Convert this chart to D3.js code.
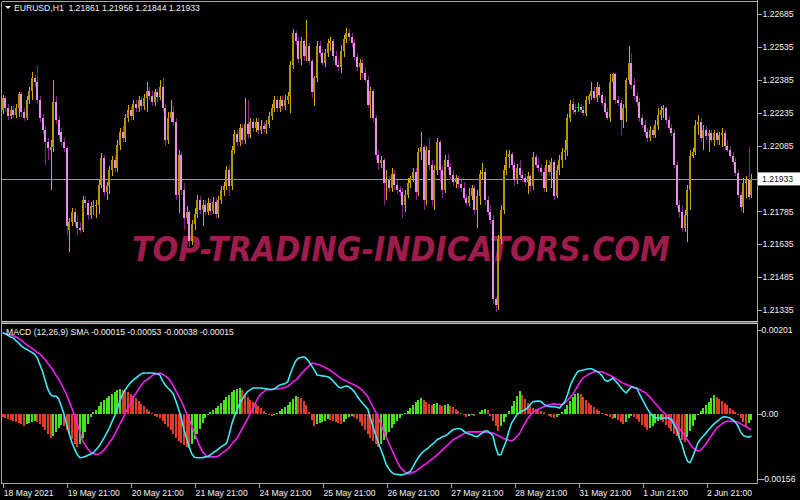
<!DOCTYPE html>
<html><head><meta charset="utf-8">
<script src="https://cdn.jsdelivr.net/npm/d3@7"></script>
<style>html,body{margin:0;padding:0;background:#000;} svg{display:block;}</style>
</head><body>
<svg id="c" width="800" height="500"></svg>
<script>
// ---------------- DATA ----------------
const chartTitle = "EURUSD,H1";
const lastOHLC = [1.21861, 1.21956, 1.21844, 1.21933];
const currentPrice = 1.21933;
const watermark = "TOP-TRADING-INDICATORS.COM";
const macdLegend = "MACD (12,26,9) SMA -0.00015 -0.00053 -0.00038 -0.00015";

const open = [1.22246,1.22300,1.22255,1.22219,1.22246,1.22223,1.22255,1.22318,1.22237,1.22210,
1.22291,1.22336,1.22391,1.22373,1.22291,1.22210,1.22155,1.22101,1.22064,1.22078,
1.22282,1.22200,1.22146,1.22101,1.22074,1.21702,1.21738,1.21784,1.21738,1.21711,
1.21702,1.21838,1.21824,1.21766,1.21811,1.21811,1.21815,1.21906,1.22028,1.21874,
1.21901,1.21974,1.22019,1.21983,1.22087,1.22146,1.22119,1.22210,1.22246,1.22219,
1.22273,1.22255,1.22291,1.22264,1.22300,1.22336,1.22309,1.22282,1.22327,1.22305,
1.22354,1.22255,1.22110,1.22210,1.22237,1.22191,1.21861,1.22042,1.21883,1.21756,
1.21784,1.21648,1.21725,1.21775,1.21838,1.21793,1.21815,1.21784,1.21824,1.21788,
1.21829,1.21775,1.21838,1.21883,1.21901,1.21974,1.21901,1.22064,1.22137,1.22101,
1.22164,1.22110,1.22182,1.22137,1.22191,1.22164,1.22191,1.22155,1.22173,1.22160,
1.22182,1.22219,1.22255,1.22291,1.22255,1.22291,1.22264,1.22291,1.22309,1.22454,
1.22599,1.22563,1.22481,1.22563,1.22495,1.22540,1.22472,1.22327,1.22391,1.22540,
1.22508,1.22463,1.22508,1.22554,1.22563,1.22495,1.22454,1.22445,1.22518,1.22572,
1.22599,1.22581,1.22554,1.22490,1.22445,1.22463,1.22418,1.22382,1.22268,1.22336,
1.22210,1.22042,1.22006,1.22019,1.21915,1.21929,1.21892,1.21956,1.21906,1.21883,
1.21874,1.21815,1.21861,1.21915,1.21938,1.21965,1.21874,1.22055,1.22078,1.21838,
1.22064,1.21997,1.21838,1.21974,1.22101,1.21974,1.21883,1.22019,1.21987,1.21951,
1.21920,1.21938,1.21910,1.21892,1.21847,1.21824,1.21856,1.21892,1.21793,1.21856,
1.21956,1.21965,1.21838,1.21784,1.21747,1.21385,1.21358,1.21657,1.21793,1.21974,
1.22033,1.22046,1.21997,1.21929,1.21983,1.21951,1.21938,1.21920,1.21947,1.21901,
1.22033,1.21997,1.21983,1.21965,1.21892,1.21997,1.21965,1.22010,1.21856,1.21974,
1.22019,1.22055,1.22064,1.22210,1.22273,1.22246,1.22259,1.22259,1.22246,1.22232,
1.22291,1.22309,1.22336,1.22300,1.22354,1.22314,1.22277,1.22237,1.22210,1.22373,
1.22413,1.22291,1.22277,1.22200,1.22255,1.22382,1.22463,1.22359,1.22309,1.22282,
1.22210,1.22178,1.22146,1.22119,1.22155,1.22133,1.22178,1.22223,1.22246,1.22255,
1.22200,1.22164,1.22142,1.21997,1.21815,1.21784,1.21711,1.21770,1.21883,1.22037,
1.22055,1.22178,1.22191,1.22119,1.22155,1.22128,1.22142,1.22110,1.22142,1.22110,
1.22133,1.22142,1.22083,1.22064,1.22037,1.22010,1.21960,1.21861,1.21806,1.21915,
1.21929,1.21861];

const high = [1.22314,1.22309,1.22273,1.22264,1.22264,1.22273,1.22327,1.22327,1.22255,1.22309,
1.22354,1.22422,1.22409,1.22450,1.22309,1.22228,1.22173,1.22119,1.22110,1.22382,
1.22309,1.22219,1.22164,1.22119,1.22083,1.21756,1.21802,1.21802,1.21766,1.21738,
1.21856,1.21856,1.21838,1.21829,1.21838,1.21838,1.21929,1.22051,1.22042,1.21920,
1.21992,1.22037,1.22042,1.22110,1.22164,1.22173,1.22228,1.22268,1.22264,1.22291,
1.22291,1.22309,1.22305,1.22318,1.22377,1.22354,1.22336,1.22345,1.22345,1.22382,
1.22395,1.22273,1.22237,1.22291,1.22264,1.22210,1.22064,1.22055,1.21915,1.21811,
1.21793,1.21747,1.21802,1.21861,1.21856,1.21838,1.21838,1.21847,1.21843,1.21852,
1.21847,1.21856,1.21901,1.21920,1.21992,1.21997,1.22083,1.22155,1.22155,1.22182,
1.22182,1.22300,1.22291,1.22210,1.22210,1.22210,1.22210,1.22200,1.22191,1.22200,
1.22237,1.22273,1.22309,1.22309,1.22309,1.22309,1.22314,1.22327,1.22472,1.22617,
1.22608,1.22581,1.22581,1.22572,1.22658,1.22554,1.22481,1.22404,1.22563,1.22563,
1.22527,1.22527,1.22572,1.22581,1.22572,1.22518,1.22481,1.22545,1.22590,1.22622,
1.22617,1.22599,1.22572,1.22508,1.22481,1.22481,1.22445,1.22400,1.22354,1.22345,
1.22223,1.22064,1.22037,1.22028,1.21974,1.21947,1.21983,1.21974,1.21929,1.21901,
1.21892,1.21883,1.21938,1.21947,1.21983,1.21983,1.22074,1.22146,1.22087,1.22083,
1.22119,1.22019,1.21997,1.22119,1.22110,1.21997,1.22042,1.22046,1.22006,1.21974,
1.21951,1.21947,1.21929,1.21920,1.21865,1.21892,1.21906,1.21906,1.21883,1.21974,
1.22006,1.21983,1.21856,1.21815,1.21770,1.21394,1.21675,1.21815,1.21997,1.22064,
1.22064,1.22055,1.22010,1.22001,1.22019,1.21974,1.21956,1.21965,1.21956,1.22055,
1.22046,1.22028,1.22001,1.21983,1.22019,1.22019,1.22028,1.22019,1.21997,1.22042,
1.22074,1.22110,1.22228,1.22291,1.22300,1.22273,1.22277,1.22273,1.22264,1.22309,
1.22318,1.22373,1.22354,1.22373,1.22364,1.22327,1.22309,1.22255,1.22413,1.22418,
1.22418,1.22309,1.22291,1.22273,1.22391,1.22540,1.22508,1.22391,1.22327,1.22300,
1.22223,1.22200,1.22164,1.22173,1.22173,1.22200,1.22255,1.22264,1.22268,1.22264,
1.22219,1.22182,1.22155,1.22010,1.21838,1.21815,1.21793,1.21906,1.22064,1.22074,
1.22200,1.22223,1.22210,1.22178,1.22173,1.22155,1.22155,1.22155,1.22155,1.22146,
1.22164,1.22155,1.22110,1.22083,1.22055,1.22028,1.21974,1.21874,1.21938,1.21947,
1.22078,1.21956];

const low = [1.22228,1.22237,1.22200,1.22205,1.22210,1.22210,1.22214,1.22214,1.22196,1.22200,
1.22273,1.22291,1.22354,1.22273,1.22191,1.22137,1.21997,1.22019,1.21883,1.22055,
1.22182,1.22110,1.22083,1.22055,1.21679,1.21598,1.21720,1.21720,1.21675,1.21684,
1.21689,1.21802,1.21747,1.21752,1.21770,1.21756,1.21775,1.21892,1.21856,1.21838,
1.21865,1.21947,1.21965,1.21965,1.22064,1.22101,1.22101,1.22191,1.22200,1.22200,
1.22237,1.22237,1.22246,1.22246,1.22237,1.22291,1.22264,1.22264,1.22282,1.22291,
1.22237,1.22083,1.22092,1.22191,1.22173,1.21838,1.21779,1.21861,1.21702,1.21729,
1.21621,1.21630,1.21702,1.21756,1.21775,1.21716,1.21766,1.21766,1.21770,1.21775,
1.21756,1.21756,1.21820,1.21856,1.21883,1.21856,1.21883,1.22046,1.22083,1.22083,
1.22092,1.22092,1.22119,1.22119,1.22146,1.22146,1.22137,1.22137,1.22142,1.22137,
1.22164,1.22200,1.22237,1.22237,1.22237,1.22246,1.22246,1.22273,1.22232,1.22436,
1.22545,1.22463,1.22454,1.22472,1.22472,1.22454,1.22300,1.22264,1.22373,1.22490,
1.22454,1.22445,1.22490,1.22518,1.22472,1.22441,1.22427,1.22418,1.22490,1.22554,
1.22563,1.22536,1.22472,1.22427,1.22382,1.22391,1.22373,1.22255,1.22210,1.22191,
1.22019,1.21974,1.21983,1.21815,1.21838,1.21874,1.21874,1.21883,1.21865,1.21856,
1.21756,1.21784,1.21847,1.21892,1.21920,1.21838,1.21856,1.22019,1.21793,1.21815,
1.21974,1.21811,1.21793,1.21951,1.21920,1.21847,1.21870,1.21974,1.21929,1.21901,
1.21892,1.21892,1.21874,1.21838,1.21811,1.21811,1.21838,1.21775,1.21711,1.21815,
1.21929,1.21815,1.21766,1.21729,1.21362,1.21326,1.21335,1.21634,1.21775,1.21951,
1.21983,1.21974,1.21901,1.21910,1.21938,1.21920,1.21901,1.21865,1.21874,1.21883,
1.21983,1.21965,1.21947,1.21874,1.21874,1.21947,1.21892,1.21838,1.21847,1.21951,
1.21983,1.22019,1.22037,1.22191,1.22228,1.22223,1.22237,1.22232,1.22219,1.22219,
1.22273,1.22291,1.22291,1.22282,1.22300,1.22264,1.22223,1.22200,1.22191,1.22291,
1.22273,1.22264,1.22133,1.22164,1.22191,1.22364,1.22345,1.22291,1.22264,1.22191,
1.22164,1.22128,1.22101,1.22105,1.22119,1.22119,1.22155,1.22200,1.22210,1.22182,
1.22155,1.22128,1.21983,1.21802,1.21756,1.21693,1.21693,1.21643,1.21793,1.22028,
1.22042,1.22133,1.22101,1.22064,1.22110,1.22055,1.22101,1.22083,1.22087,1.22087,
1.22078,1.22064,1.22055,1.22028,1.21997,1.21947,1.21847,1.21784,1.21779,1.21847,
1.21838,1.21844];

const close = [1.22300,1.22255,1.22219,1.22246,1.22223,1.22255,1.22318,1.22237,1.22210,1.22291,
1.22336,1.22391,1.22373,1.22291,1.22210,1.22155,1.22101,1.22074,1.22078,1.22282,
1.22200,1.22133,1.22101,1.22074,1.21720,1.21738,1.21784,1.21738,1.21711,1.21702,
1.21838,1.21824,1.21766,1.21811,1.21811,1.21815,1.21906,1.22028,1.21874,1.21901,
1.21974,1.22019,1.21983,1.22087,1.22146,1.22119,1.22210,1.22246,1.22219,1.22273,
1.22255,1.22291,1.22264,1.22300,1.22336,1.22309,1.22282,1.22327,1.22305,1.22354,
1.22255,1.22110,1.22210,1.22237,1.22191,1.21861,1.22042,1.21883,1.21756,1.21784,
1.21648,1.21725,1.21775,1.21838,1.21793,1.21815,1.21784,1.21824,1.21788,1.21829,
1.21775,1.21838,1.21883,1.21901,1.21974,1.21901,1.22064,1.22137,1.22101,1.22164,
1.22110,1.22182,1.22137,1.22191,1.22164,1.22191,1.22155,1.22173,1.22160,1.22182,
1.22219,1.22255,1.22291,1.22255,1.22291,1.22264,1.22291,1.22309,1.22454,1.22599,
1.22563,1.22481,1.22563,1.22495,1.22540,1.22472,1.22327,1.22391,1.22540,1.22508,
1.22463,1.22508,1.22554,1.22563,1.22495,1.22454,1.22445,1.22518,1.22572,1.22599,
1.22581,1.22554,1.22490,1.22445,1.22463,1.22418,1.22382,1.22268,1.22336,1.22210,
1.22042,1.22006,1.22019,1.21915,1.21929,1.21892,1.21956,1.21906,1.21883,1.21874,
1.21815,1.21861,1.21915,1.21938,1.21965,1.21874,1.22055,1.22078,1.21838,1.22064,
1.21997,1.21838,1.21974,1.22101,1.21974,1.21883,1.22019,1.21987,1.21951,1.21920,
1.21938,1.21910,1.21892,1.21847,1.21824,1.21856,1.21892,1.21793,1.21856,1.21956,
1.21965,1.21838,1.21784,1.21747,1.21385,1.21358,1.21657,1.21793,1.21974,1.22033,
1.22046,1.21997,1.21929,1.21983,1.21951,1.21938,1.21920,1.21947,1.21901,1.22033,
1.21997,1.21983,1.21965,1.21892,1.21997,1.21965,1.22010,1.21856,1.21974,1.22019,
1.22055,1.22064,1.22210,1.22273,1.22246,1.22237,1.22259,1.22246,1.22232,1.22291,
1.22309,1.22336,1.22300,1.22354,1.22314,1.22277,1.22237,1.22210,1.22373,1.22413,
1.22291,1.22277,1.22200,1.22255,1.22382,1.22463,1.22359,1.22309,1.22282,1.22210,
1.22178,1.22146,1.22119,1.22155,1.22133,1.22178,1.22223,1.22246,1.22255,1.22200,
1.22164,1.22142,1.21997,1.21815,1.21784,1.21711,1.21770,1.21883,1.22037,1.22055,
1.22178,1.22191,1.22119,1.22155,1.22128,1.22142,1.22110,1.22142,1.22110,1.22133,
1.22142,1.22083,1.22064,1.22037,1.22010,1.21960,1.21861,1.21806,1.21915,1.21929,
1.21852,1.21933];

const macdLine = [0.00194,0.00192,0.00188,0.00184,0.00182,0.00175,0.00170,0.00163,0.00158,0.00155,
0.00151,0.00147,0.00143,0.00134,0.00117,0.00101,0.00079,0.00058,0.00046,0.00042,
0.00043,0.00036,0.00019,0.00000,-0.00026,-0.00048,-0.00069,-0.00084,-0.00098,-0.00105,
-0.00104,-0.00102,-0.00099,-0.00096,-0.00093,-0.00086,-0.00079,-0.00069,-0.00058,-0.00046,
-0.00034,-0.00019,-0.00005,0.00012,0.00031,0.00048,0.00058,0.00067,0.00075,0.00081,
0.00086,0.00091,0.00096,0.00098,0.00098,0.00098,0.00098,0.00097,0.00096,0.00093,
0.00079,0.00069,0.00062,0.00056,0.00048,0.00031,0.00012,-0.00010,-0.00036,-0.00058,
-0.00079,-0.00096,-0.00104,-0.00105,-0.00105,-0.00105,-0.00103,-0.00102,-0.00098,-0.00093,
-0.00089,-0.00084,-0.00079,-0.00075,-0.00071,-0.00050,-0.00024,-0.00005,0.00010,0.00026,
0.00036,0.00046,0.00054,0.00058,0.00062,0.00062,0.00062,0.00062,0.00061,0.00060,
0.00059,0.00058,0.00060,0.00065,0.00069,0.00071,0.00073,0.00077,0.00096,0.00113,
0.00127,0.00134,0.00135,0.00137,0.00133,0.00125,0.00115,0.00105,0.00093,0.00092,
0.00091,0.00090,0.00089,0.00085,0.00079,0.00072,0.00065,0.00062,0.00065,0.00067,
0.00065,0.00060,0.00053,0.00043,0.00034,0.00026,0.00019,0.00012,-0.00010,-0.00031,
-0.00050,-0.00069,-0.00086,-0.00103,-0.00122,-0.00132,-0.00140,-0.00144,-0.00145,-0.00146,
-0.00146,-0.00144,-0.00141,-0.00138,-0.00127,-0.00115,-0.00105,-0.00096,-0.00090,-0.00085,
-0.00080,-0.00074,-0.00069,-0.00062,-0.00059,-0.00055,-0.00053,-0.00049,-0.00043,-0.00038,
-0.00036,-0.00035,-0.00036,-0.00041,-0.00046,-0.00048,-0.00050,-0.00053,-0.00055,-0.00050,
-0.00046,-0.00041,-0.00041,-0.00046,-0.00052,-0.00079,-0.00098,-0.00098,-0.00081,-0.00065,
-0.00041,-0.00022,-0.00012,-0.00002,0.00004,0.00007,0.00010,0.00014,0.00022,0.00029,
0.00030,0.00031,0.00030,0.00024,0.00020,0.00018,0.00017,0.00017,0.00016,0.00014,
0.00022,0.00029,0.00046,0.00067,0.00081,0.00093,0.00102,0.00104,0.00105,0.00107,
0.00108,0.00108,0.00105,0.00102,0.00098,0.00091,0.00081,0.00078,0.00081,0.00086,
0.00079,0.00072,0.00063,0.00056,0.00050,0.00058,0.00065,0.00063,0.00062,0.00048,
0.00036,0.00024,0.00012,0.00002,-0.00005,-0.00010,-0.00010,-0.00010,-0.00010,-0.00010,
-0.00010,-0.00014,-0.00026,-0.00038,-0.00058,-0.00074,-0.00096,-0.00113,-0.00117,-0.00103,
-0.00086,-0.00069,-0.00060,-0.00053,-0.00046,-0.00038,-0.00031,-0.00024,-0.00019,-0.00014,
-0.00008,-0.00007,-0.00008,-0.00010,-0.00014,-0.00019,-0.00029,-0.00043,-0.00052,-0.00054,
-0.00056,-0.00053];

const signalLine = [0.00194,0.00192,0.00190,0.00189,0.00187,0.00184,0.00181,0.00176,0.00171,0.00165,
0.00162,0.00157,0.00152,0.00147,0.00143,0.00137,0.00129,0.00121,0.00113,0.00104,
0.00093,0.00083,0.00072,0.00059,0.00046,0.00030,0.00013,-0.00005,-0.00024,-0.00044,
-0.00065,-0.00075,-0.00084,-0.00091,-0.00095,-0.00097,-0.00096,-0.00093,-0.00087,-0.00079,
-0.00069,-0.00061,-0.00050,-0.00037,-0.00024,-0.00012,0.00001,0.00014,0.00026,0.00040,
0.00049,0.00059,0.00068,0.00077,0.00081,0.00086,0.00091,0.00095,0.00096,0.00098,
0.00095,0.00091,0.00086,0.00078,0.00068,0.00055,0.00043,0.00032,0.00017,0.00001,
-0.00014,-0.00030,-0.00046,-0.00063,-0.00078,-0.00091,-0.00098,-0.00103,-0.00103,-0.00103,
-0.00103,-0.00101,-0.00096,-0.00091,-0.00087,-0.00080,-0.00072,-0.00065,-0.00058,-0.00046,
-0.00034,-0.00023,-0.00011,0.00002,0.00014,0.00028,0.00040,0.00048,0.00053,0.00058,
0.00058,0.00059,0.00060,0.00060,0.00061,0.00062,0.00063,0.00066,0.00071,0.00077,
0.00081,0.00087,0.00096,0.00102,0.00109,0.00115,0.00121,0.00121,0.00119,0.00117,
0.00115,0.00111,0.00108,0.00104,0.00099,0.00095,0.00090,0.00085,0.00081,0.00079,
0.00075,0.00072,0.00069,0.00066,0.00062,0.00056,0.00049,0.00042,0.00029,0.00016,
0.00005,-0.00011,-0.00026,-0.00042,-0.00056,-0.00071,-0.00085,-0.00099,-0.00113,-0.00126,
-0.00133,-0.00139,-0.00144,-0.00143,-0.00140,-0.00138,-0.00133,-0.00128,-0.00123,-0.00119,
-0.00114,-0.00109,-0.00104,-0.00099,-0.00093,-0.00087,-0.00081,-0.00075,-0.00068,-0.00062,
-0.00059,-0.00055,-0.00052,-0.00048,-0.00044,-0.00043,-0.00043,-0.00043,-0.00043,-0.00043,
-0.00043,-0.00044,-0.00044,-0.00046,-0.00046,-0.00049,-0.00052,-0.00055,-0.00059,-0.00061,
-0.00063,-0.00065,-0.00061,-0.00054,-0.00047,-0.00035,-0.00023,-0.00012,-0.00004,0.00005,
0.00008,0.00011,0.00014,0.00017,0.00019,0.00022,0.00023,0.00024,0.00023,0.00023,
0.00022,0.00026,0.00032,0.00040,0.00046,0.00058,0.00068,0.00079,0.00087,0.00091,
0.00095,0.00098,0.00101,0.00101,0.00101,0.00101,0.00098,0.00095,0.00092,0.00089,
0.00085,0.00081,0.00077,0.00073,0.00071,0.00068,0.00066,0.00063,0.00061,0.00059,
0.00055,0.00052,0.00046,0.00040,0.00032,0.00025,0.00018,0.00010,0.00004,-0.00001,
-0.00007,-0.00012,-0.00019,-0.00028,-0.00035,-0.00043,-0.00053,-0.00062,-0.00072,-0.00081,
-0.00085,-0.00089,-0.00087,-0.00080,-0.00072,-0.00062,-0.00053,-0.00043,-0.00034,-0.00029,
-0.00024,-0.00020,-0.00017,-0.00018,-0.00018,-0.00019,-0.00020,-0.00024,-0.00028,-0.00030,
-0.00035,-0.00038];

const histogram = [-0.00007,-0.00010,-0.00012,-0.00014,-0.00017,-0.00019,-0.00022,-0.00024,-0.00029,-0.00024,
-0.00022,-0.00019,-0.00017,-0.00019,-0.00024,-0.00031,-0.00038,-0.00048,-0.00058,-0.00053,
-0.00043,-0.00034,-0.00026,-0.00029,-0.00038,-0.00048,-0.00060,-0.00072,-0.00079,-0.00072,
-0.00058,-0.00043,-0.00024,-0.00007,0.00005,0.00010,0.00019,0.00029,0.00034,0.00038,
0.00043,0.00048,0.00053,0.00058,0.00060,0.00058,0.00055,0.00053,0.00048,0.00043,
0.00038,0.00031,0.00024,0.00019,0.00012,0.00007,0.00002,-0.00005,-0.00007,-0.00010,
-0.00017,-0.00024,-0.00031,-0.00038,-0.00048,-0.00058,-0.00065,-0.00069,-0.00074,-0.00079,
-0.00081,-0.00072,-0.00060,-0.00048,-0.00036,-0.00022,-0.00010,-0.00002,0.00005,0.00010,
0.00014,0.00019,0.00026,0.00034,0.00041,0.00046,0.00053,0.00058,0.00060,0.00062,
0.00058,0.00048,0.00041,0.00034,0.00029,0.00024,0.00019,0.00014,0.00007,0.00002,
-0.00002,-0.00005,-0.00002,0.00002,0.00007,0.00012,0.00017,0.00022,0.00029,0.00036,
0.00043,0.00041,0.00038,0.00031,0.00022,0.00005,-0.00014,-0.00029,-0.00024,-0.00022,
-0.00019,-0.00017,-0.00012,-0.00014,-0.00017,-0.00019,-0.00022,-0.00024,-0.00019,-0.00012,
-0.00007,-0.00005,-0.00007,-0.00012,-0.00019,-0.00029,-0.00038,-0.00048,-0.00058,-0.00065,
-0.00072,-0.00079,-0.00072,-0.00062,-0.00053,-0.00043,-0.00034,-0.00024,-0.00017,-0.00010,
-0.00002,0.00002,0.00007,0.00014,0.00022,0.00029,0.00034,0.00038,0.00034,0.00029,
0.00024,0.00022,0.00024,0.00026,0.00022,0.00019,0.00022,0.00024,0.00019,0.00017,
0.00012,0.00007,0.00002,-0.00002,-0.00007,-0.00005,-0.00002,-0.00005,0.00000,0.00005,
0.00010,0.00012,0.00010,-0.00005,-0.00017,-0.00029,-0.00041,-0.00029,-0.00019,-0.00007,
0.00007,0.00019,0.00031,0.00043,0.00055,0.00046,0.00036,0.00026,0.00019,0.00014,
0.00012,0.00010,0.00007,0.00005,0.00000,-0.00005,-0.00007,-0.00010,-0.00007,-0.00002,
0.00005,0.00012,0.00022,0.00031,0.00041,0.00048,0.00050,0.00048,0.00041,0.00034,
0.00026,0.00022,0.00017,0.00012,0.00007,0.00002,-0.00002,-0.00005,-0.00007,-0.00012,
-0.00010,-0.00014,-0.00019,-0.00024,-0.00019,-0.00010,-0.00005,-0.00007,-0.00012,-0.00019,
-0.00026,-0.00031,-0.00038,-0.00034,-0.00029,-0.00022,-0.00017,-0.00014,-0.00019,-0.00026,
-0.00034,-0.00041,-0.00048,-0.00053,-0.00058,-0.00062,-0.00067,-0.00055,-0.00041,-0.00029,
-0.00014,-0.00002,0.00007,0.00014,0.00022,0.00029,0.00038,0.00046,0.00041,0.00036,
0.00031,0.00026,0.00022,0.00014,0.00010,0.00005,-0.00002,-0.00010,-0.00019,-0.00029,
-0.00022,-0.00015];

const priceTicks = [1.22685,1.22535,1.22385,1.22235,1.22085,1.21785,1.21635,1.21485,1.21335];
const macdTicks = [0.00201, 0, -0.00156];
const macdTickLabels = ["0.00201","0.00","-0.00156"];
const timeLabelBars = [0,24,48,72,96,120,144,168,192,216,240,264];
const timeLabels = ["18 May 2021","19 May 21:00","20 May 21:00","21 May 21:00","24 May 21:00","25 May 21:00",
                    "26 May 21:00","27 May 21:00","28 May 21:00","31 May 21:00","1 Jun 21:00","2 Jun 21:00"];

// ---------------- DRAW ----------------
const svg = d3.select("#c");
const FONT = "'Liberation Sans', Arial, sans-serif";
const TXT = "#f2f2f2";
const FRAME = "#a8a8a8";
const plotL = 1.5, plotR = 757.5;
const mainTop = 2, mainBot = 320.5, subTop = 325, subBot = 483.5;

svg.append("rect").attr("width",800).attr("height",500).attr("fill","#000");

const x = d3.scaleLinear().domain([0, close.length - 1]).range([2.7, 751.3]);
const yP = d3.scaleLinear().domain([1.21335, 1.22685]).range([310, 14]);
const yM = d3.scaleLinear().domain([-0.00156, 0.00201]).range([479, 330]);

const defs = svg.append("defs");
defs.append("clipPath").attr("id","clipMain").append("rect")
  .attr("x",plotL+0.5).attr("y",mainTop).attr("width",plotR-plotL-1).attr("height",mainBot-mainTop);
defs.append("clipPath").attr("id","clipSub").append("rect")
  .attr("x",plotL+0.5).attr("y",subTop).attr("width",plotR-plotL-1).attr("height",subBot-subTop-0.5);

// watermark
svg.append("text")
  .attr("x",132).attr("y",261)
  .attr("textLength",538).attr("lengthAdjust","spacingAndGlyphs")
  .attr("font-family","'DejaVu Sans', Verdana, sans-serif")
  .attr("font-weight","bold").attr("font-style","italic")
  .attr("font-size",33).attr("fill","#9e1c4c")
  .text(watermark);

const main = svg.append("g").attr("clip-path","url(#clipMain)");

// current price line
main.append("line")
  .attr("x1",plotL).attr("x2",plotR)
  .attr("y1",Math.round(yP(currentPrice))+0.5).attr("y2",Math.round(yP(currentPrice))+0.5)
  .attr("stroke","#8e99a6").attr("stroke-width",1);

const idx = d3.range(close.length);
const colOf = i => close[i] > open[i] ? "bull" : (close[i] < open[i] ? "bear" : "doji");
const wickCol = {bull:"#d2ae00", bear:"#8e1e8e", doji:"#2ed62e"};
const bodyCol = {bull:"#b59400", bear:"#e98fe9", doji:"#2ed62e"};

main.append("g").selectAll("line").data(idx).join("line")
  .attr("x1", i => Math.round(x(i)) + 0.5).attr("x2", i => Math.round(x(i)) + 0.5)
  .attr("y1", i => yP(high[i])).attr("y2", i => yP(low[i]))
  .attr("stroke", i => wickCol[colOf(i)]).attr("stroke-width",1)
  .attr("shape-rendering","crispEdges");

main.append("g").selectAll("rect").data(idx).join("rect")
  .attr("x", i => Math.round(x(i)) - 1)
  .attr("width", 2)
  .attr("y", i => Math.min(yP(open[i]), yP(close[i])))
  .attr("height", i => Math.max(1, Math.abs(yP(open[i]) - yP(close[i]))))
  .attr("fill", i => bodyCol[colOf(i)])
  .attr("shape-rendering","crispEdges");

// MACD panel
const sub = svg.append("g").attr("clip-path","url(#clipSub)");
sub.append("g").selectAll("rect").data(idx).join("rect")
  .attr("x", i => Math.round(x(i)) - 1)
  .attr("width", 2)
  .attr("y", i => Math.min(yM(0), yM(histogram[i])))
  .attr("height", i => Math.max(0.5, Math.abs(yM(histogram[i]) - yM(0))))
  .attr("fill", i => (i > 0 && histogram[i] > histogram[i-1]) ? "#46e41f" : "#e03c2a")
  .attr("shape-rendering","crispEdges");

const lineGen = arr => d3.line().x((d,i) => x(i)).y(d => yM(d)).curve(d3.curveLinear)(arr);
sub.append("path").attr("d", lineGen(signalLine)).attr("fill","none")
  .attr("stroke","#f21ef2").attr("stroke-width",1.6).attr("stroke-linejoin","round");
sub.append("path").attr("d", lineGen(macdLine)).attr("fill","none")
  .attr("stroke","#3fe8f4").attr("stroke-width",1.6).attr("stroke-linejoin","round");

// frame
const frame = svg.append("g").attr("fill","none").attr("stroke",FRAME).attr("shape-rendering","crispEdges");
frame.append("line").attr("x1",plotL).attr("x2",plotR).attr("y1",1.5).attr("y2",1.5);
frame.append("line").attr("x1",plotL).attr("x2",plotL).attr("y1",1.5).attr("y2",subBot);
frame.append("line").attr("x1",plotR).attr("x2",plotR).attr("y1",0).attr("y2",subBot);
frame.append("line").attr("x1",plotL).attr("x2",plotR).attr("y1",subBot).attr("y2",subBot);
frame.append("line").attr("x1",plotL).attr("x2",plotR).attr("y1",321.5).attr("y2",321.5).attr("stroke","#c4c4c4");
frame.append("line").attr("x1",plotL).attr("x2",plotR).attr("y1",322.5).attr("y2",322.5).attr("stroke","#6a6a6a");
frame.append("line").attr("x1",plotL).attr("x2",plotR).attr("y1",323.5).attr("y2",323.5).attr("stroke","#c4c4c4");

function styleAxis(g){
  g.select(".domain").remove();
  g.selectAll(".tick line").attr("stroke",FRAME).attr("shape-rendering","crispEdges");
  g.selectAll(".tick text").attr("fill",TXT).attr("font-family",FONT).attr("font-size","8.6px");
}

// price axis
svg.append("g").attr("transform",`translate(${plotR},0)`)
  .call(d3.axisRight(yP).tickValues(priceTicks).tickSize(4).tickPadding(1).tickFormat(d3.format(".5f")))
  .call(styleAxis);

// macd axis
svg.append("g").attr("transform",`translate(${plotR},0)`)
  .call(d3.axisRight(yM).tickValues(macdTicks).tickSize(4).tickPadding(0).tickFormat((d,i) => macdTickLabels[i]))
  .call(styleAxis);

// time axis
const tax = svg.append("g").attr("transform",`translate(0,${subBot})`)
  .call(d3.axisBottom(x).tickValues(timeLabelBars).tickSize(4).tickPadding(2).tickFormat((d,i) => timeLabels[i]))
  .call(styleAxis);
tax.selectAll(".tick line").attr("transform","translate(0.5,0)");
tax.selectAll(".tick text").attr("text-anchor","start").attr("dx","0.6");

// current price box
const cpY = yP(currentPrice);
svg.append("rect").attr("x",plotR+0.5).attr("y",cpY-6.5).attr("width",42).attr("height",13).attr("fill","#ffffff");
svg.append("text").attr("x",plotR+4.5).attr("y",cpY+3)
  .attr("font-family",FONT).attr("font-size","8.6px").attr("fill","#101020").text(d3.format(".5f")(currentPrice));

// title
svg.append("path").attr("d","M5,6 L11,6 L8,9 Z").attr("fill",TXT);
svg.append("text").attr("x",14).attr("y",11).attr("font-family",FONT).attr("font-size","8.6px")
  .attr("fill",TXT).style("white-space","pre")
  .text(chartTitle + "  " + lastOHLC.map(d3.format(".5f")).join(" "));

// macd legend
svg.append("text").attr("x",6).attr("y",335).attr("font-family",FONT).attr("font-size","8.6px")
  .attr("fill",TXT).style("white-space","pre").text(macdLegend);
</script>
</body></html>
